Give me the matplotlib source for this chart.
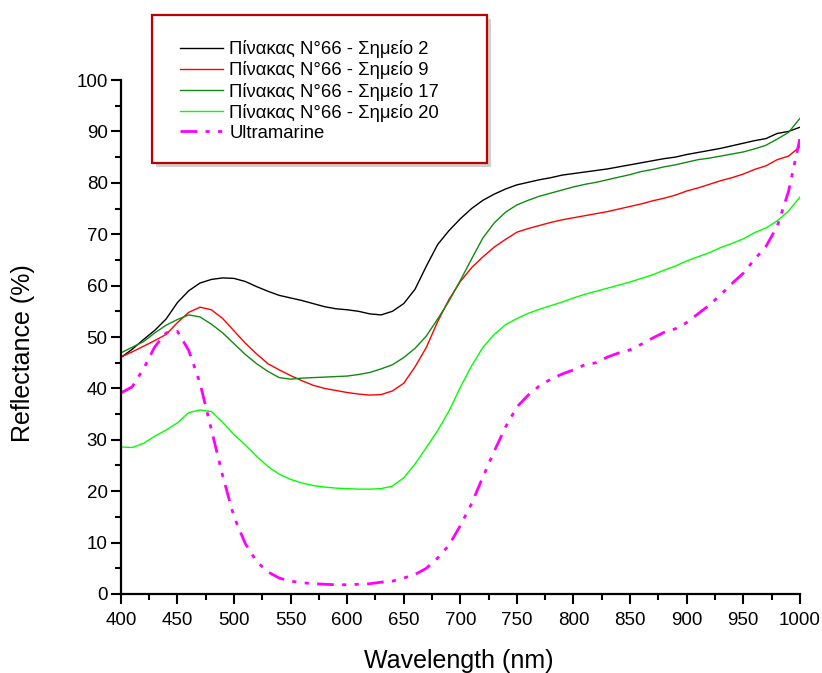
import matplotlib
matplotlib.use("Agg")
import matplotlib.pyplot as plt
from matplotlib.patches import Rectangle
from matplotlib.ticker import MultipleLocator

plt.rcParams['font.family'] = ['Liberation Sans', 'DejaVu Sans']

wavelength = list(range(400, 1001, 10))

point_2 = [46.0, 47.6, 49.5, 51.3, 53.5, 56.7, 59.0, 60.5, 61.2, 61.5,
           61.4, 60.8, 59.8, 58.9, 58.1, 57.6, 57.1, 56.5, 55.9, 55.5,
           55.3, 55.0, 54.5, 54.3, 55.0, 56.5, 59.3, 63.8, 68.0, 70.7,
           73.0, 75.0, 76.6, 77.8, 78.8, 79.6, 80.1, 80.6, 81.0, 81.5,
           81.8, 82.1, 82.4, 82.7, 83.1, 83.5, 83.9, 84.3, 84.7, 85.0,
           85.5, 85.9, 86.3, 86.7, 87.2, 87.7, 88.2, 88.6, 89.6, 90.0,
           90.8]

point_9 = [46.1, 47.1, 48.2, 49.3, 50.5, 52.8, 54.8, 55.8, 55.3, 53.6,
           51.2, 48.8, 46.7, 44.8, 43.6, 42.5, 41.5, 40.6, 40.0, 39.6,
           39.2, 38.9, 38.7, 38.8, 39.5, 41.0, 44.2, 48.0, 53.0, 57.3,
           60.8, 63.5, 65.6, 67.5, 69.0, 70.4, 71.1, 71.7, 72.3, 72.8,
           73.2, 73.6, 74.0, 74.4, 74.9, 75.4, 75.9, 76.5, 77.0, 77.6,
           78.4, 79.0, 79.7, 80.4, 81.0, 81.7, 82.6, 83.3, 84.5, 85.2,
           87.0]

point_17 = [46.9, 48.0, 49.1, 50.8, 52.3, 53.4, 54.3, 53.9, 52.5, 50.8,
            48.7, 46.6, 44.8, 43.3, 42.1, 41.8, 42.0, 42.1, 42.2, 42.3,
            42.4, 42.7, 43.1, 43.8, 44.6, 46.0, 47.8, 50.2, 53.5, 57.0,
            61.0, 65.2, 69.3, 72.2, 74.3, 75.7, 76.6, 77.4, 78.0, 78.6,
            79.2, 79.7, 80.1, 80.6, 81.1, 81.6, 82.2, 82.6, 83.1, 83.5,
            84.0, 84.5, 84.8, 85.2, 85.6, 86.0, 86.6, 87.3, 88.5, 89.8,
            92.5]

point_20 = [28.6, 28.5, 29.3, 30.7, 31.9, 33.3, 35.3, 35.8, 35.5, 33.4,
            31.0, 29.0, 26.8, 24.8, 23.3, 22.3, 21.6, 21.1, 20.8, 20.6,
            20.5, 20.4, 20.4, 20.5, 21.0, 22.6, 25.3, 28.5, 31.8, 35.6,
            40.2, 44.4, 48.0, 50.5, 52.4, 53.6, 54.6, 55.4, 56.1, 56.8,
            57.6, 58.3, 58.9, 59.5, 60.1, 60.7, 61.4, 62.1, 63.0, 63.8,
            64.8, 65.6, 66.4, 67.4, 68.2, 69.1, 70.3, 71.2, 72.6, 74.5,
            77.2]

ultramarine = [39.1, 40.3, 43.8, 48.1, 50.8, 51.1, 47.4, 41.0, 32.0, 23.0,
               15.0, 9.8, 6.3, 4.3, 3.1, 2.5, 2.2, 2.0, 1.9, 1.8,
               1.8, 1.9, 2.0, 2.3, 2.5, 3.1, 3.8, 5.0, 7.0, 9.5,
               13.3, 17.6, 22.8, 27.8, 32.5, 36.4, 38.7, 40.5, 41.8, 42.8,
               43.6, 44.6, 45.0, 46.1, 46.9, 47.5, 48.6, 49.8, 50.9, 51.6,
               52.8, 54.5, 56.2, 58.2, 60.4, 62.4, 65.1, 67.6, 71.5, 78.3,
               88.5]

labels = ["Πίνακας N°66 - Σημείο 2", "Πίνακας N°66 - Σημείο 9",
          "Πίνακας N°66 - Σημείο 17", "Πίνακας N°66 - Σημείο 20",
          "Ultramarine"]

W, H = 822, 673
fig = plt.figure(figsize=(W / 100, H / 100), dpi=100)
ax = fig.add_axes([0.147, 0.1174, 0.826, 0.7637])

lw = 1.0
ax.plot(wavelength, point_2, color='#000000', lw=lw, label=labels[0])
ax.plot(wavelength, point_9, color='#ff0000', lw=lw, label=labels[1])
ax.plot(wavelength, point_17, color='#118a11', lw=lw, label=labels[2])
ax.plot(wavelength, point_20, color='#00ff00', lw=lw, label=labels[3])
ax.plot(wavelength, ultramarine, color='#ff00ff', lw=2.0,
        dashes=[6, 3, 1.5, 3, 1.5, 3], label=labels[4])

ax.set_xlim(400, 1000)
ax.set_ylim(0, 100)
ax.xaxis.set_major_locator(MultipleLocator(50))
ax.xaxis.set_minor_locator(MultipleLocator(25))
ax.yaxis.set_major_locator(MultipleLocator(10))
ax.yaxis.set_minor_locator(MultipleLocator(5))

for side in ('top', 'right'):
    ax.spines[side].set_visible(False)
for side in ('left', 'bottom'):
    ax.spines[side].set_linewidth(1.6)
ax.tick_params(which='major', direction='out', length=7, width=1.5,
               labelsize=13.5)
ax.tick_params(axis='y', which='major', pad=2.5)
ax.tick_params(axis='x', which='major', pad=6)
ax.tick_params(which='minor', direction='out', length=4.5, width=1.5)

# Axis titles
fig.text(459 / W, 1 - 661 / H, "Wavelength (nm)", fontsize=18,
         ha='center', va='center')
fig.text(23 / W, 1 - 353 / H, "Reflectance (%)", fontsize=18,
         ha='center', va='center', rotation=90)

# Legend box with a soft drop shadow
bx0, by0, bx1, by1 = 152, 15, 487, 163
shadow = Rectangle(((bx0 + 4) / W, 1 - (by1 + 4) / H),
                   (bx1 - bx0) / W, (by1 - by0) / H,
                   transform=fig.transFigure, facecolor='#d0d0d0',
                   edgecolor='none', zorder=5)
box = Rectangle((bx0 / W, 1 - by1 / H), (bx1 - bx0) / W, (by1 - by0) / H,
                transform=fig.transFigure, facecolor='white',
                edgecolor='#c00000', lw=1.6, zorder=6)
fig.add_artist(shadow)
fig.add_artist(box)

leg = fig.legend(loc='upper left', bbox_to_anchor=(171 / W, 1 - 31 / H),
                 frameon=False, fontsize=13.3, handlelength=2.3,
                 handletextpad=0.35, labelspacing=0.17, borderpad=0)
leg.set_zorder(7)

fig.savefig("out.png", dpi=100)
